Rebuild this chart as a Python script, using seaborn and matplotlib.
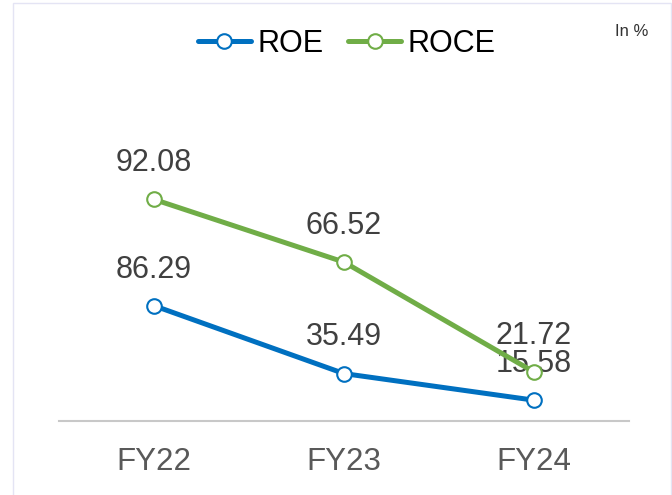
import matplotlib
matplotlib.use('Agg')
import matplotlib.pyplot as plt
import seaborn as sns
import pandas as pd
from matplotlib.patches import Rectangle

# datos del grafico
years = ['FY22', 'FY23', 'FY24']
roe = [86.29, 35.49, 15.58]
roce = [92.08, 66.52, 21.72]

blue = '#0070C0'
green = '#70AD47'

sns.set_theme(style='white')
plt.rcParams['font.family'] = ['Liberation Sans', 'DejaVu Sans']

df = pd.DataFrame({'year': years, 'ROE': roe, 'ROCE': roce})

fig = plt.figure(figsize=(6.72, 4.95), dpi=100)
ax = fig.add_axes([59 / 672, 74 / 495, 570 / 672, 361 / 495])
ax2 = ax.twinx()

estilo = dict(marker='o', markersize=10.5, markerfacecolor='white',
              markeredgewidth=1.5, linewidth=3.6, clip_on=False)

# ROE en el eje principal, ROCE en el eje secundario
sns.lineplot(data=df, x='year', y='ROE', ax=ax, color=blue,
             markeredgecolor=blue, label='ROE', legend=False, **estilo)
sns.lineplot(data=df, x='year', y='ROCE', ax=ax2, color=green,
             markeredgecolor=green, label='ROCE', legend=False, **estilo)

ax.set_ylim(0, 270.2)
ax2.set_ylim(1.75, 148.9)
ax.set_xlim(-0.5, 2.5)

# etiquetas de datos encima de cada punto
for i, v in enumerate(roe):
    ax.annotate(f'{v:.2f}', (i, v), xytext=(0, 26), textcoords='offset points',
                ha='center', va='center', fontsize=22, color='#404040')
for i, v in enumerate(roce):
    ax2.annotate(f'{v:.2f}', (i, v), xytext=(0, 26), textcoords='offset points',
                 ha='center', va='center', fontsize=22, color='#404040')

for a in (ax, ax2):
    for s in ['top', 'right', 'left']:
        a.spines[s].set_visible(False)
    a.set_yticks([])
    a.set_ylabel('')
    a.set_xlabel('')
ax2.spines['bottom'].set_visible(False)
ax.spines['bottom'].set_color('#c8c8c8')
ax.spines['bottom'].set_linewidth(1.5)
ax.set_xticks(range(len(years)))
ax.set_xticklabels(years)
ax.tick_params(axis='x', length=0, pad=19, labelsize=22.5, labelcolor='#595959')

# leyenda arriba
h1, l1 = ax.get_legend_handles_labels()
h2, l2 = ax2.get_legend_handles_labels()
fig.legend(h1 + h2, l1 + l2, loc='center', bbox_to_anchor=(346.5 / 672, 1 - 44 / 495),
           ncol=2, frameon=False, fontsize=22, handlelength=1.75, handletextpad=0.2,
           columnspacing=0.8, borderpad=0, labelcolor='black')

fig.text(632 / 672, 1 - 31 / 495, 'In %', ha='center', va='center', fontsize=12, color='#333333')

# borde claro alrededor
fig.patches.append(Rectangle((13 / 672, -0.1), (671 - 13) / 672, 1.1 - 3 / 495,
                             transform=fig.transFigure, fill=False,
                             edgecolor='#e4e4f4', linewidth=1))

fig.savefig('out.png', dpi=100)
